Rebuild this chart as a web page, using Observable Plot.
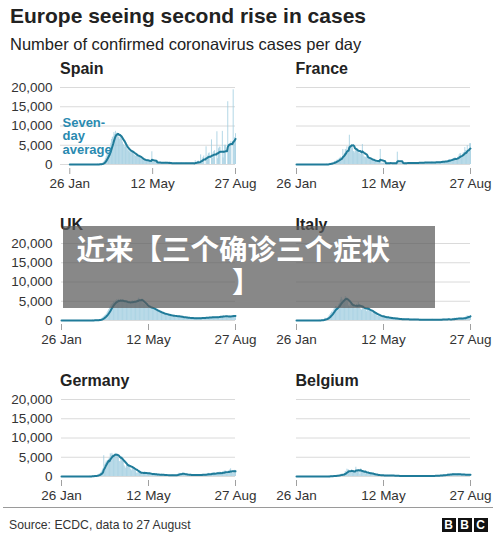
<!DOCTYPE html>
<html>
<head>
<meta charset="utf-8">
<script src="https://cdn.jsdelivr.net/npm/d3@7"></script>
<script src="https://cdn.jsdelivr.net/npm/@observablehq/plot@0.6"></script>
<style>
  body { margin: 0; background: #fff; font-family: "Liberation Sans", Arial, Helvetica, sans-serif; }
  #root { position: relative; width: 500px; height: 536px; overflow: hidden; background: #fff; }
  .abs { position: absolute; white-space: nowrap; line-height: 1; }
  .title { font-size: 21px; font-weight: bold; color: #222; }
  .subtitle { font-size: 16.5px; color: #222; }
  .country { font-size: 16px; font-weight: bold; color: #222; }
  .caption { font-size: 12.2px; color: #333; }
  .note { font-size: 13px; font-weight: bold; color: #2a8ab0; line-height: 13.5px; }
  .banner { background: rgba(90,90,90,0.72); }
  .btxt { font-family: "Noto Sans CJK SC", sans-serif; font-weight: bold; color: #fff; font-size: 28.5px; }
  .bbc { position: absolute; width: 14px; height: 14px; background: #111; color: #fff; font-weight: bold; font-size: 12px; line-height: 14px; text-align: center; }
  .panel { position: absolute; }
  .panel g[aria-label="x-axis"] line, .panel g[aria-label="x-axis tick"] path { stroke: #a0a0a0; }
</style>
</head>
<body>
<div id="root"></div>
<script>
// ---- data: confirmed cases per day, in thousands, one value per day from 26 Jan to 27 Aug 2020 ----
const countries = ["Spain", "France", "UK", "Italy", "Germany", "Belgium"];
const startDay = "2020-01-26";
const endDay = "2020-08-27";
const spainStartAxis = "2020-01-14";
const xTickDays = ["2020-01-26", "2020-05-12", "2020-08-27"];
const yTicks = [0, 5000, 10000, 15000, 20000];

const spainDaily = [
0,0,0,0,0,0,0, 0,0,0,0,0,0,0, 0,0,0,0,0,0,0, 0,0,0,0,0,0,0, 0,0,0,0,0,0,0,
0,0.1,0,0.1,0.1,0.1,0.1,
0.2,0.5,0.7,1.0,1.5,2.0,2.5,
2.8,3.0,3.5,4.5,5.5,6.5,7.0,
7.2,8.3,7.8,8.6,7.8,8.2,7.6,
7.0,6.5,7.8,7.2,6.5,5.8,5.2,
5.0,4.5,4.8,4.4,4.0,3.7,3.5,
3.3,3.0,3.5,3.6,3.1,2.8,2.6,
2.3,2.1,2.3,2.5,2.0,2.2,1.9,
1.6,1.4,1.3,1.2,1.1,1.3,1.2,
1.0,0.9,1.0,1.1,0.9,0.8,0.9,
0.6,3.3,0.6,0.5,0.6,0.7,0.6,
0.5,0.5,0.4,0.5,0.5,0.5,0.4,
0.4,0.5,0.4,0.3,0.5,0.6,0.5,
0.3,0.4,0.3,0.4,0.3,0.4,0.3,
0.3,0.2,0.3,0.3,0.3,0.4,0.3,
0.3,0.3,0.3,0.3,0.4,0.3,0.3,
0.3,0.2,0.3,0.4,0.3,0.3,0.3,
0.3,0.3,0.3,0.3,0.4,0.3,0.3,
0,1.0,0.5,0.6,0.8,0.9,0,
0,2.5,1.0,1.4,1.8,2.2,0,
0,4.6,1.5,2.2,2.8,3.0,0,
0,6.4,1.6,3.0,3.4,3.6,0,
0,8.5,1.5,4.1,4.5,4.5,0,
0,8.6,1.7,3.6,5.0,5.0,0,
0,16.3,4.5,5.0,5.5,6.0,0,
0,19.4,6.0,7.0,8.0
];

const franceDaily = [
0,0,0,0,0,0,0, 0,0,0,0,0,0,0, 0,0,0,0,0,0,0, 0,0,0,0,0,0,0, 0,0,0,0,0,0,0,
0,0,0.1,0,0.1,0.2,0.3,
0.2,0.3,0.4,0.5,0.6,0.8,0.8,
0.9,1.2,1.1,1.4,1.6,1.9,1.6,
1.8,3.9,2.4,2.9,3.9,3.8,4.6,
3.0,4.6,7.6,5.0,4.8,5.2,4.3,
3.4,3.0,3.5,4.3,3.8,4.0,3.1,
2.8,3.1,2.6,3.0,5.2,2.7,2.0,
1.9,1.8,2.0,1.5,1.6,1.8,1.4,
1.2,1.0,1.1,1.0,1.2,1.1,0.9,
0.6,0.7,0.8,0.9,0.8,3.9,0.4,
0.3,0.3,0.4,0.2,0.3,0.4,0.3,
0.3,0.3,0.4,0.4,0.5,0.3,0.3,
0.3,0.3,0.4,0.3,0.4,3.2,1.1,
0.3,0.3,0.3,0.4,0.3,0.4,0.3,
0.3,0.4,0.4,0.4,0.4,0.4,0.4,
0.4,0.4,0.4,0.5,0.4,0.4,0.4,
0.4,0.4,0.4,0.5,0.5,0.5,0.5,
0.5,0.4,0.5,0.5,0.6,0.5,0.5,
0.5,0.5,0.5,0.5,0.5,0.6,0.6,
0.5,0.5,0.5,0.6,0.6,0.6,0.6,
0.6,0.6,0.7,0.7,0.8,0.8,0.8,
0.8,0.7,0.8,0.9,1.0,1.2,1.3,
1.1,1.2,1.3,1.4,1.5,1.6,1.8,
1.4,1.2,1.8,2.0,2.5,2.8,2.8,
2.0,1.9,3.0,3.1,4.4,3.6,3.3,
4.9,3.0,3.5,5.4,5.4
];

const ukDaily = [
0,0,0,0,0,0,0, 0,0,0,0,0,0,0, 0,0,0,0,0,0,0, 0,0,0,0,0,0,0, 0,0,0,0,0,0,0,
0,0,0,0.1,0.1,0,0.1,
0.1,0.1,0.1,0.1,0.1,0.2,0.3,
0.4,0.6,0.8,1.0,1.2,1.4,1.6,
2.0,2.4,2.8,3.2,3.6,4.0,4.2,
4.4,4.8,4.6,5.0,5.2,5.4,5.0,
5.5,4.8,5.0,5.3,5.1,5.4,5.0,
4.6,4.8,4.7,5.0,4.8,4.5,4.6,
4.7,4.6,4.8,5.2,4.9,5.0,4.9,
4.8,5.0,5.2,5.5,5.8,5.4,5.0,
4.9,5.6,4.5,4.3,4.2,4.1,3.8,
3.6,3.4,3.3,3.5,3.4,3.2,3.3,
3.0,2.9,2.7,2.8,2.6,2.5,2.4,
2.2,2.1,2.0,2.1,1.9,1.8,1.9,
1.6,1.5,1.6,1.7,1.5,1.4,1.3,
1.3,1.2,1.3,1.3,1.2,1.1,1.2,
1.1,1.0,1.1,1.2,1.0,1.0,0.9,
0.9,0.8,0.9,0.8,0.8,0.7,0.8,
0.7,0.6,0.7,0.7,0.6,0.6,0.6,
0.6,0.6,0.6,0.6,0.6,0.6,0.6,
0.6,0.6,0.7,0.6,0.6,0.7,0.7,
0.7,0.7,0.7,0.8,0.7,0.8,0.8,
0.8,0.8,0.8,0.9,0.9,0.8,0.8,
0.8,0.9,0.9,1.0,0.9,0.9,1.0,
1.1,1.0,1.1,1.2,1.1,1.0,1.1,
1.1,1.0,1.0,1.2,1.1,1.0,1.1,
1.2,1.1,1.3,1.2,1.3
];

const italyDaily = [
0,0,0,0,0,0,0, 0,0,0,0,0,0,0, 0,0,0,0,0,0,0, 0,0,0,0,0,0,0,
0.1,0,0.1,0.1,0.1,0.2,0.2,
0.6,0.4,0.5,0.7,0.8,1.2,1.5,
1.8,2.2,2.0,2.6,3.0,3.2,3.6,
3.6,3.2,3.5,4.2,4.5,5.3,6.0,
5.5,4.8,5.2,5.5,6.2,6.0,5.9,
4.8,3.8,3.6,4.2,4.0,4.2,4.2,
3.8,3.6,3.0,3.8,4.2,3.9,4.7,
4.1,3.2,2.9,2.7,3.8,3.5,3.5,
3.1,3.0,2.3,2.7,3.4,3.0,2.6,
2.3,2.3,1.7,2.1,2.1,1.9,1.9,
1.4,1.2,1.1,1.4,1.4,1.3,1.1,
0.8,0.7,0.9,1.0,0.9,1.0,0.8,
0.7,0.5,0.5,0.8,0.6,0.6,0.7,
0.5,0.5,0.3,0.4,0.6,0.5,0.4,
0.4,0.3,0.2,0.3,0.3,0.5,0.5,
0.3,0.2,0.2,0.3,0.2,0.4,0.2,
0.3,0.3,0.2,0.2,0.3,0.3,0.3,
0.2,0.2,0.1,0.2,0.2,0.3,0.2,
0.2,0.2,0.1,0.2,0.2,0.2,0.2,
0.2,0.2,0.1,0.2,0.2,0.2,0.3,
0.2,0.2,0.1,0.2,0.2,0.2,0.2,
0.2,0.2,0.1,0.3,0.3,0.3,0.3,
0.3,0.2,0.2,0.3,0.4,0.4,0.3,
0.2,0.2,0.2,0.4,0.4,0.6,0.6,
0.5,0.5,0.4,0.5,0.6,0.6,0.6,
0.6,0.5,0.4,0.6,0.6,0.9,1.1,
1.1,1.2,0.9,1.0,1.3
];

const germanyDaily = [
0,0,0,0,0,0,0, 0,0,0,0,0,0,0, 0,0,0,0,0,0,0, 0,0,0,0,0,0,0, 0,0,0,0,0,0,0,
0.1,0,0.1,0.1,0.1,0.2,0.1,
0.2,0.2,0.3,0.4,0.6,0.7,0.9,
1.2,1.5,2.0,5.4,3.0,3.5,4.0,
3.8,4.2,4.5,4.8,5.9,5.5,6.0,
5.6,5.2,5.5,6.0,5.7,5.8,5.5,
4.8,3.9,3.8,4.6,5.2,4.3,3.9,
2.8,2.5,2.1,2.9,3.3,3.1,3.0,
2.5,1.8,1.5,2.2,2.3,2.3,2.0,
1.5,0.9,0.8,1.1,1.3,1.2,0.9,
0.8,0.7,0.6,1.0,1.2,1.1,0.9,
0.7,0.6,0.5,0.8,0.9,0.8,0.6,
0.5,0.5,0.4,0.6,0.7,0.6,0.4,
0.4,0.4,0.3,0.5,0.6,0.5,0.4,
0.3,0.3,0.3,0.4,0.4,0.4,0.3,
0.3,0.2,0.3,0.4,0.4,0.3,0.3,
0.3,0.3,0.4,0.6,0.8,0.8,0.7,
0.6,0.6,0.8,0.7,0.6,0.5,0.5,
0.4,0.3,0.4,0.5,0.5,0.4,0.3,
0.3,0.3,0.4,0.4,0.5,0.4,0.4,
0.3,0.2,0.4,0.5,0.5,0.6,0.5,
0.4,0.3,0.5,0.6,0.6,0.8,0.8,
0.5,0.3,0.6,0.9,0.9,0.9,1.0,
0.5,0.5,0.9,1.0,1.0,1.1,1.1,
0.6,0.4,1.2,1.2,1.4,1.4,1.4,
0.6,0.6,1.4,1.5,1.7,2.0,1.3,
0.9,0.7,1.5,1.6,1.5
];

const belgiumDaily = [
0,0,0,0,0,0,0, 0,0,0,0,0,0,0, 0,0,0,0,0,0,0, 0,0,0,0,0,0,0, 0,0,0,0,0,0,0,
0,0,0,0,0,0.1,0.1,
0.1,0.1,0.1,0.1,0.1,0.2,0.2,
0.3,0.2,0.2,0.4,0.3,0.5,0.6,
0.6,0.4,0.6,0.8,1.3,1.1,1.9,
1.7,1.7,1.0,0.9,1.4,1.7,1.4,
1.5,1.1,1.2,2.4,1.6,1.7,1.7,
1.6,0.5,2.0,1.3,1.2,1.3,1.3,
1.1,0.7,0.9,1.0,0.9,0.9,1.0,
0.6,0.6,0.6,0.7,0.5,0.6,0.4,
0.4,0.3,0.3,0.4,0.3,0.4,0.3,
0.3,0.2,0.2,0.3,0.3,0.3,0.2,
0.3,0.2,0.2,0.3,0.2,0.3,0.2,
0.2,0.2,0.1,0.2,0.2,0.2,0.2,
0.1,0.1,0.1,0.1,0.1,0.2,0.1,
0.1,0.1,0.1,0.1,0.1,0.1,0.1,
0.1,0.1,0.1,0.1,0.1,0.1,0.1,
0.1,0.1,0.1,0.1,0.1,0.1,0.1,
0.1,0.1,0.1,0.1,0.1,0.1,0.2,
0.1,0.1,0.2,0.1,0.2,0.2,0.2,
0.1,0.1,0.2,0.2,0.2,0.2,0.3,
0.2,0.2,0.3,0.3,0.3,0.4,0.4,
0.3,0.4,0.4,0.5,0.6,0.6,0.6,
0.4,0.5,0.6,0.7,0.7,0.6,0.6,
0.5,0.5,0.6,0.7,0.6,0.6,0.5,
0.3,0.5,0.6,0.5,0.5,0.5,0.4,
0.3,0.4,0.5,0.5,0.5
];

const dailySeries = [spainDaily, franceDaily, ukDaily, italyDaily, germanyDaily, belgiumDaily];

// ---- layout ----
const root = document.getElementById("root");
function addDiv(cls, text, left, top, extra) {
  const d = document.createElement("div");
  d.className = "abs " + cls;
  d.textContent = text;
  d.style.left = left + "px";
  d.style.top = top + "px";
  if (extra) Object.assign(d.style, extra);
  root.appendChild(d);
  return d;
}

addDiv("title", "Europe seeing second rise in cases", 10, 4.7);
addDiv("subtitle", "Number of confirmed coronavirus cases per day", 10, 36);

const parse = d3.utcParse("%Y-%m-%d");
const t0 = parse(startDay);
const tEnd = parse(endDay);
const xTicks = xTickDays.map(parse);
const rowTops = [55, 211, 367];

countries.forEach((name, i) => {
  const col = i % 2, row = Math.floor(i / 2);
  const left = col === 0;
  const isSpain = name === "Spain";
  const table = dailySeries[i].map((v, k) => ({
    date: d3.utcDay.offset(t0, k),
    cases: v * 1000
  }));
  const chart = Plot.plot({
    width: left ? 260 : 250,
    height: 135,
    marginLeft: left ? (isSpain ? 60 : 61) : 46,
    marginRight: left ? 25 : 30,
    marginTop: 32,
    marginBottom: 22,
    style: {
      background: "transparent",
      overflow: "visible",
      fontFamily: "'Liberation Sans', Arial, Helvetica, sans-serif",
      fontSize: "13.5px",
      color: "#333"
    },
    x: {
      type: "utc",
      domain: [isSpain ? parse(spainStartAxis) : t0, tEnd],
      ticks: xTicks,
      tickFormat: d3.utcFormat("%-d %b"),
      tickSize: 6,
      tickPadding: 4,
      label: null
    },
    y: {
      domain: [0, 20000],
      insetBottom: 4,
      ticks: yTicks,
      tickSize: 0,
      tickPadding: left ? (isSpain ? 8 : 9) : 0,
      tickFormat: d3.format(","),
      label: null,
      axis: left ? "left" : null
    },
    marks: [
      Plot.ruleY(yTicks, {stroke: "#dadada", strokeWidth: 1}),
      Plot.ruleX(table, {x: "date", y: "cases", stroke: "#9fcde0", strokeWidth: 0.8}),
      Plot.lineY(table, Plot.windowY({k: 7, anchor: "end", reduce: "mean"},
        {x: "date", y: "cases", stroke: "#1f7b99", strokeWidth: 2, strokeLinejoin: "round"}))
    ]
  });
  chart.classList.add("panel");
  chart.style.position = "absolute";
  chart.style.left = (left ? 0 : 250) + "px";
  chart.style.top = rowTops[row] + "px";
  root.appendChild(chart);

  addDiv("country", name, left ? 60 : 295.5, rowTops[row] + 5.5);
});

// annotation inside the Spain panel
const note = addDiv("note", "", 62.5, 115.7);
note.innerHTML = "Seven-<br>day<br>average";

// footer
const rule = document.createElement("div");
Object.assign(rule.style, {position: "absolute", left: "3px", top: "507px", width: "490px", height: "1px", background: "#9a9a9a"});
root.appendChild(rule);
addDiv("caption", "Source: ECDC, data to 27 August", 9, 518.7);
["B", "B", "C"].forEach((ch, k) => {
  const b = document.createElement("div");
  b.className = "bbc";
  b.textContent = ch;
  b.style.left = (441.5 + k * 16) + "px";
  b.style.top = "518px";
  root.appendChild(b);
});

// grey overlay banner with text
const banner = document.createElement("div");
banner.className = "banner";
Object.assign(banner.style, {position: "absolute", left: "63px", top: "226px", width: "372px", height: "82px"});
root.appendChild(banner);
addDiv("btxt", "近来【三个确诊三个症状", 76.5, 234);
addDiv("btxt", "】", 232, 266.6);
</script>
</body>
</html>
